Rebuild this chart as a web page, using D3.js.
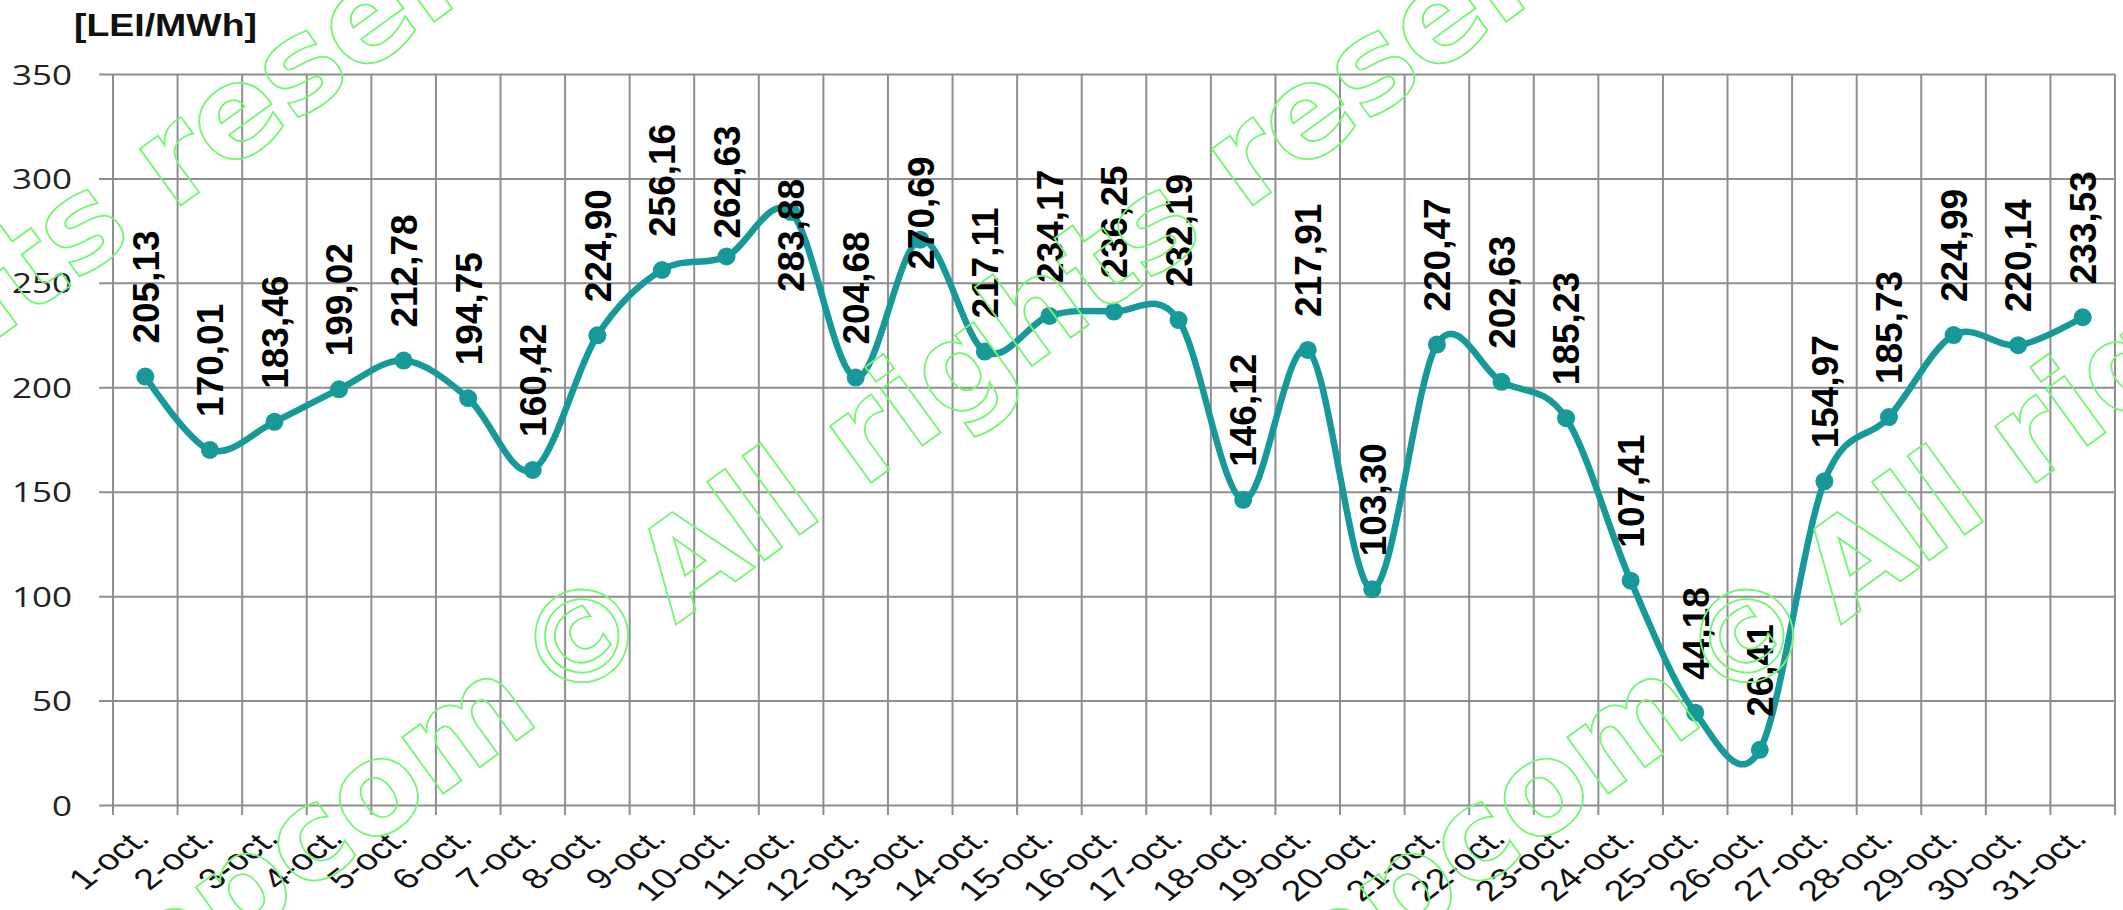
<!DOCTYPE html>
<html>
<head>
<meta charset="utf-8">
<script src="https://cdn.jsdelivr.net/npm/d3@7"></script>
<style>
    html, body { margin: 0; padding: 0; background: #fff; }
    #chart { width: 2123px; height: 910px; }
</style>
</head>
<body>
<div id="chart"></div>
<script>
/* * * * * * * * * * * * * *
 *   Daily price, October   *
 * * * * * * * * * * * * * */

// categories
const days = ['1-oct.', '2-oct.', '3-oct.', '4-oct.', '5-oct.', '6-oct.', '7-oct.', '8-oct.', '9-oct.', '10-oct.',
    '11-oct.', '12-oct.', '13-oct.', '14-oct.', '15-oct.', '16-oct.', '17-oct.', '18-oct.', '19-oct.', '20-oct.',
    '21-oct.', '22-oct.', '23-oct.', '24-oct.', '25-oct.', '26-oct.', '27-oct.', '28-oct.', '29-oct.', '30-oct.', '31-oct.'];

// price, LEI/MWh
const prices = [205.13, 170.01, 183.46, 199.02, 212.78, 194.75, 160.42, 224.90, 256.16, 262.63,
    283.88, 204.68, 270.69, 217.11, 234.17, 236.25, 232.19, 146.12, 217.91, 103.30,
    220.47, 202.63, 185.23, 107.41, 44.18, 26.41, 154.97, 185.73, 224.99, 220.14, 233.53];

// y axis ticks
const yTicks = [0, 50, 100, 150, 200, 250, 300, 350];
const yTitle = '[LEI/MWh]';
const watermarkParts = ['opcom', '©', 'All rights reserved'];

const width = 2123;
const height = 910;
const teal = '#17999a';
const gridColor = '#8e8e8e';

// plot area
const plot = { left: 113, right: 2115, top: 74, bottom: 805 };

// labels that sit lower than the usual spot (index -> px)
const labelNudge = { 9: 15, 10: 113, 12: 63 };

const svg = d3
    .select('#chart')
    .append('svg')
    .attr('width', width)
    .attr('height', height)
    .attr('viewBox', [0, 0, width, height].join(' '));

const x = d3.scaleBand().domain(days).range([plot.left, plot.right]);
const y = d3.scaleLinear().domain([0, 350]).range([plot.bottom, plot.top]);

const cx = (d, i) => x(days[i]) + x.bandwidth() / 2;

// horizontal grid + y labels
const yAxis = svg
    .append('g')
    .attr('transform', 'translate(99,0)')
    .call(d3.axisLeft(y).tickValues(yTicks).tickSize(-(plot.right - 99)).tickPadding(27));

yAxis.select('.domain').remove();
yAxis.selectAll('line').attr('stroke', gridColor).attr('stroke-width', 2);
yAxis
    .selectAll('text')
    .attr('x', 0)
    .attr('dy', '0.36em')
    .attr('transform', 'translate(-27,0) scale(1.25,1)')
    .attr('fill', '#222')
    .style('font-family', '"Open Sans", sans-serif')
    .style('font-size', '28px');

// vertical grid at category boundaries
svg.append('g')
    .selectAll('line')
    .data(d3.range(days.length + 1))
    .enter()
    .append('line')
    .attr('x1', (k) => plot.left + k * x.step())
    .attr('x2', (k) => plot.left + k * x.step())
    .attr('y1', plot.top)
    .attr('y2', plot.bottom + 10)
    .attr('stroke', gridColor)
    .attr('stroke-width', 2);

// x labels
const xAxis = svg
    .append('g')
    .attr('transform', `translate(0,${plot.bottom})`)
    .call(d3.axisBottom(x).tickSize(0));

xAxis.select('.domain').remove();
xAxis
    .selectAll('text')
    .attr('y', 0)
    .attr('dy', 0)
    .attr('text-anchor', 'end')
    .attr('transform', 'translate(6,35) scale(1.3,1) rotate(-45)')
    .attr('fill', '#111')
    .style('font-family', '"Liberation Sans", Arial, sans-serif')
    .style('font-size', '29px');

// axis title
svg.append('text')
    .attr('x', 74)
    .attr('y', 36)
    .attr('textLength', 183)
    .attr('lengthAdjust', 'spacingAndGlyphs')
    .style('font-family', '"Liberation Sans", Arial, sans-serif')
    .style('font-weight', 'bold')
    .style('font-size', '32px')
    .attr('fill', '#111')
    .text(yTitle);

// smoothed line (excel-like)
const line = d3
    .line()
    .x(cx)
    .y((d) => y(d))
    .curve(d3.curveCardinal.tension(0));

svg.append('path')
    .datum(prices)
    .attr('d', line)
    .attr('fill', 'none')
    .attr('stroke', teal)
    .attr('stroke-width', 6.5)
    .attr('stroke-linejoin', 'round');

svg.append('g')
    .selectAll('circle')
    .data(prices)
    .enter()
    .append('circle')
    .attr('cx', cx)
    .attr('cy', (d) => y(d))
    .attr('r', 9)
    .attr('fill', teal);

// value labels, rotated
svg.append('g')
    .selectAll('text')
    .data(prices)
    .enter()
    .append('text')
    .attr('transform', (d, i) => `translate(${cx(d, i)},${y(d) - 33 + (labelNudge[i] || 0)}) rotate(-90)`)
    .attr('dy', '0.36em')
    .style('font-family', '"Liberation Sans", Arial, sans-serif')
    .style('font-weight', 'bold')
    .style('font-size', '37px')
    .attr('fill', '#000')
    .text((d) => d.toFixed(2).replace('.', ','));

// watermark
const marks = [-490, 582, 1747];
marks.forEach((mx) => {
    let g = svg
        .append('g')
        .attr('transform', `translate(${mx},636) rotate(-36)`)
        .style('font-family', '"DejaVu Sans", Verdana, sans-serif')
        .style('font-weight', 'bold')
        .style('font-size', '128px')
        .attr('fill', 'none')
        .attr('stroke', '#74f574')
        .attr('stroke-width', 1.8);
    g.append('text').attr('x', -82).attr('dy', '0.36em').attr('text-anchor', 'end').text(watermarkParts[0]);
    g.append('text').attr('x', 0).attr('dy', '0.36em').attr('text-anchor', 'middle').text(watermarkParts[1]);
    g.append('text').attr('x', 82).attr('dy', '0.36em').attr('text-anchor', 'start').text(watermarkParts[2]);
});
</script>
</body>
</html>
